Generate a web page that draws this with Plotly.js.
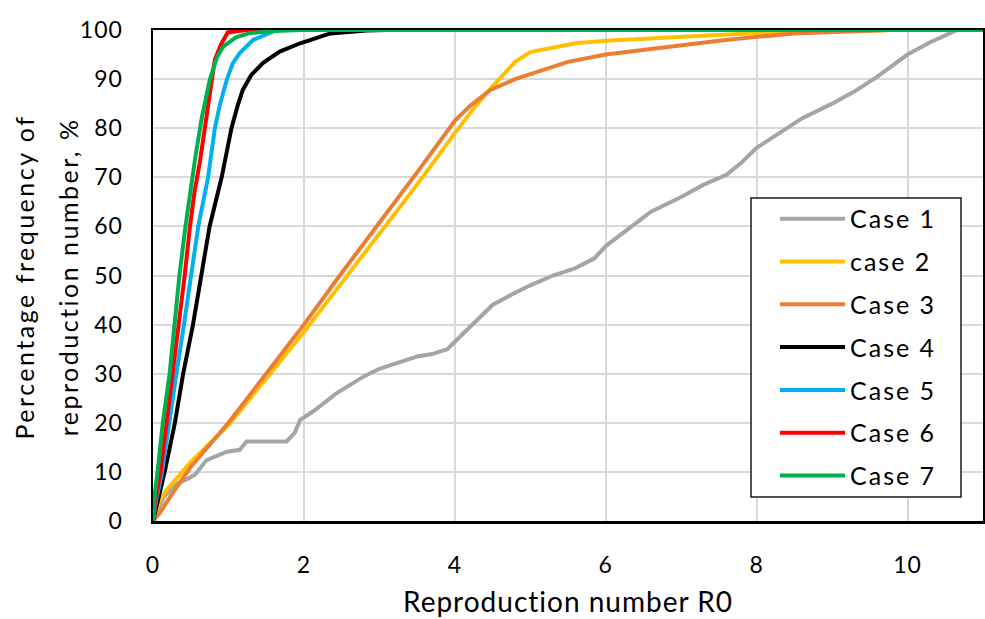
<!DOCTYPE html>
<html>
<head>
<meta charset="utf-8">
<script src="https://cdn.plot.ly/plotly-3.0.1.min.js"></script>
<style>
html,body{margin:0;padding:0;background:#fff;}
#chart{width:985px;height:619px;}
.legendtext{letter-spacing:2px;}
.xtitle{letter-spacing:1px;}
.annotation-text{letter-spacing:2.5px;}
.xtick text,.ytick text{letter-spacing:1px;}
</style>
</head>
<body>
<div id="chart"></div>
<script>
// Case 1 (grey)
const case1X = [0, 0.05, 0.15, 0.3, 0.45, 0.56, 0.71, 0.8, 0.98, 1.15, 1.24, 1.45, 1.77, 1.88, 1.95, 2.12, 2.43, 2.8, 3.0, 3.2, 3.5, 3.7, 3.9, 4.0, 4.2, 4.5, 4.8, 5.0, 5.3, 5.6, 5.85, 6.0, 6.3, 6.6, 7.0, 7.3, 7.6, 7.8, 8.0, 8.3, 8.6, 9.0, 9.3, 9.6, 10.0, 10.3, 10.66, 11.0];
const case1Y = [0, 2, 5, 7.5, 8.5, 9.5, 12.4, 13, 14.1, 14.5, 16.2, 16.2, 16.2, 18, 20.6, 22.3, 26, 29.5, 31, 32, 33.5, 34, 35, 36.5, 39.5, 44, 46.5, 48, 50, 51.5, 53.5, 56, 59.5, 63, 66, 68.5, 70.5, 73, 76, 79, 82, 85, 87.5, 90.5, 95, 97.5, 100, 100];
// case 2 (yellow)
const case2X = [0, 0.09, 0.18, 0.5, 1, 1.5, 2, 2.5, 3, 3.5, 4, 4.3, 4.5, 4.8, 5, 5.3, 5.6, 6, 6.5, 7, 7.5, 8, 9, 9.77, 11];
const case2Y = [0, 4.3, 6.3, 12, 19.5, 29, 38.5, 48.5, 58.5, 68.5, 79, 85, 88.5, 93.5, 95.5, 96.5, 97.3, 97.8, 98.2, 98.6, 99, 99.4, 99.7, 100, 100];
// Case 3 (orange)
const case3X = [0, 0.09, 0.23, 0.5, 1, 1.5, 2, 2.5, 3, 3.5, 4, 4.2, 4.47, 4.8, 5, 5.5, 6, 6.5, 7, 7.5, 8, 8.5, 9, 9.5, 9.8, 11];
const case3Y = [0, 1.6, 5, 11, 20, 30, 40, 50.5, 60.6, 71, 81.5, 84.5, 87.8, 90, 91, 93.5, 95, 96, 97, 97.8, 98.6, 99.3, 99.6, 99.9, 100, 100];
// Case 4 (black)
const case4X = [0, 0.05, 0.155, 0.29, 0.40, 0.53, 0.64, 0.75, 0.91, 1.04, 1.12, 1.19, 1.3, 1.46, 1.68, 1.95, 2.35, 2.83, 3.1, 11];
const case4Y = [0, 3, 10, 20, 30, 40, 50, 60, 70, 80, 84.5, 87.8, 90.8, 93.3, 95.6, 97.3, 99.3, 99.9, 100, 100];
// Case 5 (blue)
const case5X = [0, 0.04, 0.12, 0.21, 0.31, 0.41, 0.51, 0.60, 0.73, 0.82, 0.89, 0.98, 1.06, 1.15, 1.33, 1.64, 11];
const case5Y = [0, 4, 10, 20, 30, 40, 50, 60, 70, 80, 85, 90, 93.3, 95.3, 98, 100, 100];
// Case 6 (red)
const case6X = [0, 0.03, 0.10, 0.18, 0.265, 0.34, 0.42, 0.49, 0.55, 0.62, 0.69, 0.78, 0.82, 0.9, 0.99, 1.24, 11];
const case6Y = [0, 4, 10, 20, 30, 40, 50, 60, 67, 73, 80, 90, 94, 97, 99.5, 100, 100];
// Case 7 (green)
const case7X = [0, 0.02, 0.06, 0.13, 0.22, 0.28, 0.35, 0.43, 0.5, 0.56, 0.645, 0.755, 0.85, 0.93, 1.1, 1.29, 1.6, 1.97, 11];
const case7Y = [0, 5, 10, 20, 30, 40, 50, 60, 68, 74, 82, 90, 94.5, 96.6, 98.5, 99.4, 99.8, 100, 100];

const names = ["Case 1", "case 2", "Case 3", "Case 4", "Case 5", "Case 6", "Case 7"];
const colors = ["#a5a5a5", "#ffc000", "#ed7d31", "#000000", "#00b0f0", "#ff0000", "#00b050"];
const xs = [case1X, case2X, case3X, case4X, case5X, case6X, case7X];
const ys = [case1Y, case2Y, case3Y, case4Y, case5Y, case6Y, case7Y];

const xTickVals = [0, 2, 4, 6, 8, 10];
const yTickVals = [0, 10, 20, 30, 40, 50, 60, 70, 80, 90, 100];
const xTitle = "Reproduction number R0";
const yTitleLines = ["Percentage frequency of", "reproduction number, %"];

const traces = names.map((n, i) => ({
  x: xs[i], y: ys[i], name: n, type: "scatter", mode: "lines",
  legendgroup: "g" + i,
  line: {color: colors[i], width: 4}
}));

const font = "Lato, 'Open Sans', sans-serif";
const layout = {
  width: 985, height: 619,
  margin: {l: 153, r: 2, t: 30, b: 98},
  paper_bgcolor: "#fff", plot_bgcolor: "#fff",
  font: {family: font, color: "#000", size: 23},
  showlegend: true,
  legend: {
    x: 0.7494, y: 0.662, xanchor: "left", yanchor: "top",
    bgcolor: "rgba(0,0,0,0)", borderwidth: 0,
    font: {family: font, size: 25, color: "#000"},
    tracegroupgap: 7.3, itemwidth: 65
  },
  shapes: [{
    type: "rect", xref: "paper", yref: "paper",
    x0: 0.7205, x1: 0.9735, y0: 0.0489, y1: 0.6578,
    line: {color: "#1a1a1a", width: 1.5}, fillcolor: "#fff", layer: "above"
  }],
  annotations: yTitleLines.map((t, i) => ({
    text: t, xref: "paper", yref: "paper",
    x: i === 0 ? -0.156 : -0.102, y: 0.497,
    xanchor: "center", yanchor: "middle", textangle: -90, showarrow: false,
    font: {family: font, size: 25, color: "#000"}
  })),
  xaxis: {
    range: [0, 11], tickvals: xTickVals, ticktext: xTickVals.map(String),
    showgrid: true, gridcolor: "#d9d9d9", gridwidth: 2,
    showline: true, linecolor: "#000", linewidth: 2.5, mirror: true,
    ticks: "", ticklabelstandoff: 22, zeroline: false,
    tickfont: {size: 23},
    title: {text: xTitle, font: {size: 28}, standoff: 16}
  },
  yaxis: {
    range: [0, 100], tickvals: yTickVals, ticktext: yTickVals.map(String),
    showgrid: true, gridcolor: "#d9d9d9", gridwidth: 2,
    showline: true, linecolor: "#000", linewidth: 2.5, mirror: true,
    ticks: "", ticklabelstandoff: 23, zeroline: false,
    tickfont: {size: 23}
  }
};

Plotly.newPlot("chart", traces, layout, {displayModeBar: false, staticPlot: true});
</script>
</body>
</html>
